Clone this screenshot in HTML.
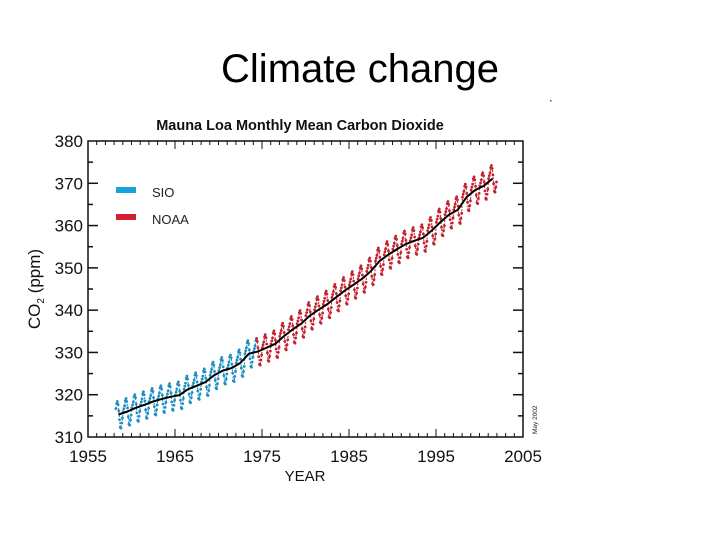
<!DOCTYPE html>
<html><head><meta charset="utf-8"><style>
body{margin:0;background:#fff;width:720px;height:540px;overflow:hidden}
svg{display:block}
text{font-family:"Liberation Sans",sans-serif}
</style></head><body>
<svg id="c" width="720" height="540">
<text x="360" y="82" font-size="40" text-anchor="middle" fill="#000">Climate change</text>
<text x="300" y="130" font-size="14.5" font-weight="bold" text-anchor="middle" fill="#111">Mauna Loa Monthly Mean Carbon Dioxide</text>
<rect x="550" y="100" width="1.5" height="1.5" fill="#555"/>
<g id="ax"></g>
<g id="dat"></g>
<rect x="116" y="187" width="20" height="6" fill="#1aa3db"/>
<text x="152" y="197" font-size="13" fill="#222">SIO</text>
<rect x="116" y="214" width="20" height="6" fill="#d42030"/>
<text x="152" y="224" font-size="13" fill="#222">NOAA</text>
<text x="305" y="481" font-size="15" text-anchor="middle" fill="#111">YEAR</text>
<text transform="translate(40,289) rotate(-90)" font-size="17" text-anchor="middle" fill="#111">CO<tspan font-size="10" dy="4">2</tspan><tspan dy="-4"> (ppm)</tspan></text>
<text transform="translate(537,434) rotate(-90)" font-size="6.5" fill="#222" font-family="Liberation Serif">May 2002</text>
</svg>
<script>
const years=[1958,1959,1960,1961,1962,1963,1964,1965,1966,1967,1968,1969,1970,1971,1972,1973,1974,1975,1976,1977,1978,1979,1980,1981,1982,1983,1984,1985,1986,1987,1988,1989,1990,1991,1992,1993,1994,1995,1996,1997,1998,1999,2000,2001];
const annualMean=[315.3,316.0,316.9,317.6,318.4,319.0,319.5,319.9,321.3,322.1,323.0,324.6,325.7,326.3,327.5,329.7,330.2,331.1,332.0,333.8,335.4,336.8,338.7,340.1,341.4,343.0,344.6,346.0,347.4,349.2,351.6,353.1,354.4,355.6,356.4,357.1,358.8,360.8,362.6,363.7,366.7,368.4,369.4,371.1];
const seasonal=[0.0,0.7,1.4,2.6,3.1,2.4,0.9,-1.2,-3.0,-3.2,-2.0,-0.8];
const xTicks=[1955,1965,1975,1985,1995,2005];
const yTicks=[310,320,330,340,350,360,370,380];
const NS='http://www.w3.org/2000/svg';
const L=88,R=523,T=141,B=437;
const X=y=>L+(y-1955)/50*(R-L);
const Y=v=>B-(v-310)/70*(B-T);
function mk(tag,attrs,parent){const e=document.createElementNS(NS,tag);for(const k in attrs)e.setAttribute(k,attrs[k]);parent.appendChild(e);return e;}
const ax=document.getElementById('ax'),dat=document.getElementById('dat');
const frame=mk('rect',{x:L,y:T,width:R-L,height:B-T,fill:'none',stroke:'#111','stroke-width':1.5},ax);


for(let yr=1956;yr<2005;yr++){const x=X(yr);const len=(yr%10==5)?8:4;
 const t1=mk('line',{x1:x,x2:x,y1:T,y2:T+len,stroke:'#111','stroke-width':1},ax);
 
 
 const t2=mk('line',{x1:x,x2:x,y1:B,y2:B-len,stroke:'#111','stroke-width':1},ax);
 
 }
xTicks.forEach(v=>{const t=mk('text',{x:X(v),y:462,'font-size':17,'text-anchor':'middle',fill:'#111'},ax);t.textContent=v;
 
 });
for(let v=315;v<380;v+=5){const y=Y(v);const len=(v%10==0)?10:5;
 const a=mk('line',{x1:L,x2:L+len,y1:y,y2:y,stroke:'#111','stroke-width':1.5},ax);
 
 
 const b=mk('line',{x1:R,x2:R-len,y1:y,y2:y,stroke:'#111','stroke-width':1.5},ax);
 
 }
yTicks.forEach(v=>{const t=mk('text',{x:83,y:Y(v)+6,'font-size':17,'text-anchor':'end',fill:'#111'},ax);t.textContent=v;
 
 });
let sio=[],noaa=[];
years.forEach((yr,i)=>{seasonal.forEach((s,m)=>{const t=yr+(m+0.5)/12;if(yr==1958&&m<2)return;const p=[X(t),Y(annualMean[i]+s)];if(t<1974.4)sio.push(p);else noaa.push(p);});});
noaa.unshift(sio[sio.length-1]);
[[sio,'#1f8fbf','sio-series'],[noaa,'#c4222e','noaa-series']].forEach(([pts,col,nm])=>{
 const pl=mk('polyline',{points:pts.map(p=>p.join(',')).join(' '),fill:'none',stroke:col,'stroke-width':1.1,'stroke-dasharray':'2 1.5'},dat);
 
 
 pts.forEach(p=>{const c=mk('circle',{cx:p[0],cy:p[1],r:1.4,fill:col},dat);
  
  });
});
const trend=years.map((yr,i)=>[X(yr+0.5),Y(annualMean[i])]);
const tl=mk('polyline',{points:trend.map(p=>p.join(',')).join(' '),fill:'none',stroke:'#000','stroke-width':2,'stroke-linejoin':'round'},dat);


</script>
</body></html>
